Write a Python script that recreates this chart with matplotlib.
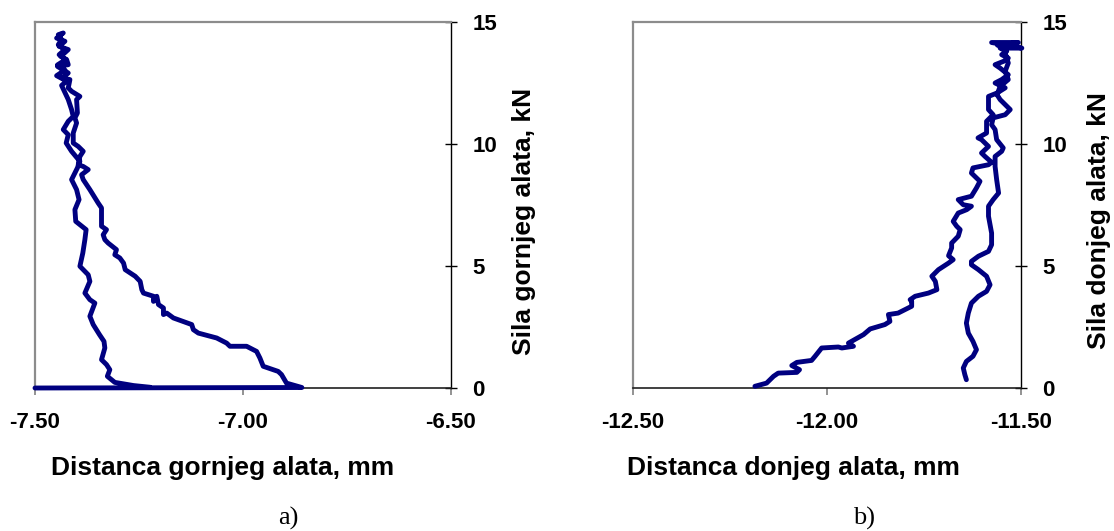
import numpy as np
import matplotlib
matplotlib.use('Agg')
import matplotlib.pyplot as plt

# a) gornji alat: sila (kN) vs distanca (mm)
gornji_x = [-7.500, -6.858, -6.895, -6.907, -6.915, -6.951, -6.959, -6.967, -6.991, -7.031,
            -7.039, -7.063, -7.107, -7.119, -7.123, -7.167, -7.183, -7.191, -7.191, -7.203,
            -7.207, -7.215, -7.215, -7.239, -7.243, -7.247, -7.259, -7.283, -7.287, -7.296,
            -7.308, -7.304, -7.324, -7.332, -7.336, -7.328, -7.340, -7.340, -7.348, -7.368,
            -7.384, -7.388, -7.372, -7.384, -7.396, -7.392, -7.384, -7.396, -7.408, -7.408,
            -7.400, -7.404, -7.398, -7.400, -7.392, -7.412, -7.420, -7.416, -7.434, -7.420,
            -7.446, -7.420, -7.424, -7.438, -7.420, -7.442, -7.428, -7.448, -7.432, -7.444,
            -7.436, -7.444, -7.428, -7.442, -7.426, -7.446, -7.428, -7.448, -7.424, -7.436,
            -7.420, -7.412, -7.408, -7.420, -7.432, -7.420, -7.425, -7.412, -7.392, -7.398,
            -7.412, -7.400, -7.394, -7.404, -7.402, -7.377, -7.380, -7.385, -7.392, -7.372,
            -7.368, -7.380, -7.368, -7.356, -7.368, -7.360, -7.345, -7.334, -7.332, -7.340,
            -7.328, -7.320, -7.326, -7.308, -7.263, -7.223]
gornji_y = [0.00, 0.02, 0.20, 0.55, 0.68, 0.89, 1.23, 1.50, 1.71, 1.71,
            1.84, 2.05, 2.25, 2.39, 2.60, 2.87, 3.07, 3.01, 3.28, 3.42,
            3.76, 3.55, 3.76, 3.89, 4.03, 4.37, 4.58, 4.85, 5.12, 5.33,
            5.46, 5.67, 5.94, 6.08, 6.28, 6.49, 6.63, 7.38, 7.58, 8.13,
            8.54, 8.74, 8.95, 9.08, 9.15, 9.49, 9.70, 9.90, 10.04, 10.45,
            10.86, 11.07, 11.27, 11.82, 11.95, 12.16, 12.30, 12.64, 12.70, 12.91,
            13.18, 13.25, 13.46, 13.59, 13.87, 14.00, 14.21, 14.34, 14.55, 14.48,
            14.28, 14.07, 13.87, 13.66, 13.46, 13.24, 13.03, 12.80, 12.58, 12.40,
            11.82, 11.41, 11.13, 10.93, 10.59, 10.38, 10.04, 9.70, 9.29, 9.02,
            8.54, 8.13, 7.72, 7.31, 6.83, 6.49, 6.08, 5.53, 4.99, 4.64,
            4.37, 3.89, 3.62, 3.48, 2.94, 2.60, 2.19, 1.91, 1.64, 1.16,
            0.96, 0.75, 0.48, 0.23, 0.10, 0.03]

# b) donji alat
donji_x = [-12.185, -12.155, -12.137, -12.125, -12.077, -12.070, -12.090, -12.077, -12.039, -12.030,
           -12.013, -11.970, -11.961, -11.931, -11.944, -11.905, -11.888, -11.850, -11.837, -11.841,
           -11.816, -11.781, -11.781, -11.785, -11.772, -11.738, -11.716, -11.720, -11.729, -11.712,
           -11.686, -11.674, -11.686, -11.678, -11.678, -11.661, -11.656, -11.665, -11.674, -11.661,
           -11.639, -11.627, -11.648, -11.661, -11.644, -11.627, -11.614, -11.605, -11.627, -11.623,
           -11.583, -11.575, -11.592, -11.601, -11.583, -11.601, -11.610, -11.588, -11.588, -11.588,
           -11.571, -11.583, -11.583, -11.583, -11.561, -11.540, -11.566, -11.549, -11.532, -11.553,
           -11.566, -11.544, -11.532, -11.549, -11.536, -11.553, -11.497, -11.575, -11.506, -11.560,
           -11.520, -11.545, -11.540, -11.532, -11.540, -11.532, -11.553, -11.561, -11.553, -11.527,
           -11.540, -11.571, -11.575, -11.566, -11.562, -11.545, -11.549, -11.566, -11.566, -11.562,
           -11.557, -11.571, -11.583, -11.583, -11.575, -11.575, -11.583, -11.609, -11.627, -11.627,
           -11.609, -11.588, -11.579, -11.588, -11.609, -11.627, -11.635, -11.640, -11.635, -11.623,
           -11.614, -11.623, -11.640, -11.648, -11.644, -11.640]
donji_y = [0.07, 0.20, 0.48, 0.61, 0.64, 0.75, 0.92, 1.05, 1.13, 1.30,
           1.64, 1.68, 1.64, 1.71, 1.84, 2.19, 2.42, 2.60, 2.73, 3.01,
           3.07, 3.35, 3.55, 3.62, 3.76, 3.89, 4.03, 4.37, 4.58, 4.85,
           5.12, 5.26, 5.42, 5.74, 5.94, 6.22, 6.49, 6.63, 6.83, 7.17,
           7.31, 7.45, 7.51, 7.72, 7.79, 7.86, 8.20, 8.47, 8.81, 9.02,
           9.15, 9.25, 9.49, 9.63, 9.90, 10.18, 10.25, 10.45, 10.66, 10.93,
           11.20, 11.41, 11.68, 11.95, 12.09, 12.30, 12.50, 12.64, 12.84, 13.11,
           13.25, 13.39, 13.52, 13.66, 13.80, 13.93, 13.93, 14.16, 14.16, 14.05,
           14.10, 13.95, 13.73, 13.32, 12.98, 12.64, 12.36, 12.02, 11.82, 11.41,
           11.20, 11.07, 10.79, 10.59, 10.18, 9.84, 9.70, 9.49, 9.08, 8.54,
           7.99, 7.72, 7.45, 7.04, 6.35, 5.87, 5.60, 5.40, 5.19, 5.05,
           4.85, 4.58, 4.23, 3.96, 3.76, 3.48, 3.07, 2.66, 2.25, 1.91,
           1.57, 1.30, 1.09, 0.82, 0.55, 0.34]

xlim_a = (-7.5, -6.5)
xlim_b = (-12.5, -11.5)
xticks_a = [-7.5, -7.0, -6.5]
xticks_b = [-12.5, -12.0, -11.5]
yticks = [0, 5, 10, 15]

W, H = 1114, 531
fig = plt.figure(figsize=(W / 100, H / 100), dpi=100)
bold = dict(family=['Liberation Sans', 'DejaVu Sans'], weight='bold')


def panel(left, right, x, y, xlim, xticks, xlabel, ylabel, xlab_x, ylab_x, tag, tag_x):
    ax = fig.add_axes([left / W, 1 - 388 / H, (right - left) / W, 366 / H])
    ax.plot(x, y, color='#000080', lw=3.5, solid_joinstyle='round',
            solid_capstyle='round', clip_on=False, zorder=3)
    ax.set_xlim(*xlim)
    ax.set_ylim(0, 15)
    ax.set_xticks(xticks)
    ax.set_xticklabels(['%.2f' % v for v in xticks], fontsize=16, **bold)
    ax.set_yticks(yticks)
    ax.yaxis.tick_right()
    ax.set_yticklabels([str(v) for v in yticks], fontsize=16, **bold)
    for s in ['left', 'top']:
        ax.spines[s].set_color('#8c8c8c')
        ax.spines[s].set_linewidth(1.6)
    ax.spines['right'].set_color('black')
    ax.spines['right'].set_linewidth(1.0)
    ax.spines['bottom'].set_color('#202020')
    ax.spines['bottom'].set_linewidth(1.2)
    ax.tick_params(axis='x', direction='out', length=5, width=1.2, color='#808080', pad=12)
    ax.tick_params(axis='y', direction='inout', length=9, width=1.0, color='black', pad=11)
    fig.text(xlab_x / W, 1 - 468 / H, xlabel, fontsize=19, ha='center', va='center', **bold)
    fig.text(ylab_x / W, 1 - 221 / H, ylabel, fontsize=19, rotation=90,
             ha='center', va='center', **bold)
    fig.text(tag_x / W, 1 - 518 / H, tag, fontsize=19, ha='center', va='center',
             family=['Liberation Serif', 'DejaVu Serif'])
    return ax


panel(35, 450.7, gornji_x, gornji_y, xlim_a, xticks_a,
      'Distanca gornjeg alata, mm', 'Sila gornjeg alata, kN', 223, 524, 'a)', 288)
panel(632.7, 1020.7, donji_x, donji_y, xlim_b, xticks_b,
      'Distanca donjeg alata, mm', 'Sila donjeg alata, kN', 793, 1099, 'b)', 864)

fig.savefig('out.png', dpi=100)
